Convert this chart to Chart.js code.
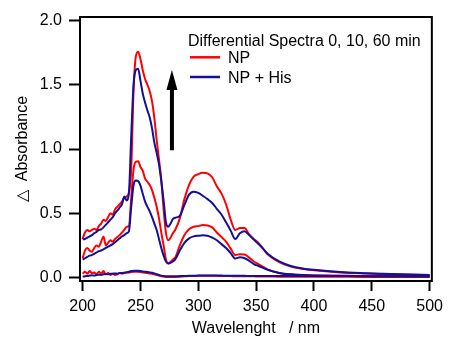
<!DOCTYPE html>
<html><head><meta charset="utf-8">
<script src="https://cdn.jsdelivr.net/npm/chart.js@4.4.1/dist/chart.umd.min.js"></script>
<style>html,body{margin:0;padding:0;background:#fff;overflow:hidden}canvas{display:block}</style>
</head><body>
<canvas id="c" width="449" height="338"></canvas>
<script>
// Wavelength grid (nm)
const wavelengths = [200,202,204,206,208,210,212,214,216,218,220,222,224,226,228,230,232,234,236,238,240,
  242,244,246,248,250,252,254,256,258,260,262,264,266,268,270,272,274,276,278,280,
  284,288,292,296,300,304,308,312,316,320,324,328,332,336,340,344,348,352,356,360,
  370,380,390,400,420,440,460,480,500];

// NP, 60 min (red, top)
const np60 = [0.30,0.35,0.37,0.36,0.37,0.38,0.37,0.40,0.42,0.45,0.44,0.47,0.50,0.49,0.53,0.55,0.57,0.59,0.62,0.63,0.66,
  0.85,1.45,1.72,1.757,1.70,1.61,1.545,1.50,1.45,1.37,1.24,1.07,0.92,0.76,0.53,0.35,0.29,0.31,0.345,0.37,
  0.46,0.61,0.72,0.785,0.805,0.815,0.81,0.78,0.71,0.655,0.57,0.45,0.37,0.385,0.385,0.335,0.30,0.27,0.225,0.18,
  0.12,0.085,0.068,0.057,0.042,0.034,0.028,0.023,0.019];
// NP + His, 60 min (blue, top)
const nphis60 = [0.297,0.30,0.31,0.32,0.33,0.345,0.355,0.37,0.375,0.39,0.41,0.43,0.45,0.47,0.50,0.52,0.545,0.57,0.63,0.60,0.66,
  1.10,1.50,1.615,1.625,1.53,1.43,1.36,1.30,1.245,1.16,1.05,0.97,0.88,0.75,0.60,0.43,0.395,0.42,0.455,0.465,
  0.48,0.565,0.645,0.668,0.658,0.635,0.61,0.58,0.535,0.49,0.43,0.365,0.30,0.345,0.36,0.33,0.295,0.26,0.225,0.185,
  0.125,0.09,0.071,0.06,0.045,0.035,0.029,0.024,0.020];
// NP, 10 min (red, middle)
const np10 = [0.15,0.21,0.23,0.21,0.20,0.23,0.25,0.24,0.28,0.32,0.25,0.27,0.29,0.28,0.30,0.315,0.33,0.35,0.37,0.395,0.40,
  0.62,0.84,0.90,0.905,0.86,0.83,0.77,0.745,0.72,0.68,0.62,0.55,0.46,0.35,0.25,0.14,0.11,0.12,0.14,0.155,
  0.25,0.33,0.375,0.395,0.40,0.408,0.405,0.39,0.35,0.315,0.28,0.225,0.175,0.182,0.18,0.155,0.125,0.105,0.083,0.062,
  0.036,0.025,0.019,0.016,0.013,0.011,0.010,0.009,0.008];
// NP + His, 10 min (blue, middle)
const nphis10 = [0.14,0.15,0.16,0.17,0.175,0.185,0.195,0.205,0.21,0.22,0.23,0.24,0.25,0.26,0.275,0.29,0.305,0.32,0.33,0.345,0.36,
  0.55,0.72,0.755,0.75,0.715,0.65,0.59,0.55,0.515,0.47,0.42,0.37,0.30,0.23,0.17,0.125,0.11,0.115,0.125,0.14,
  0.21,0.27,0.305,0.32,0.325,0.328,0.325,0.31,0.29,0.26,0.23,0.19,0.148,0.157,0.15,0.13,0.105,0.09,0.075,0.06,
  0.036,0.025,0.019,0.016,0.013,0.011,0.010,0.009,0.008];
// NP, 0 min (red, bottom)
const np0 = [0.03,0.045,0.03,0.05,0.035,0.04,0.025,0.045,0.03,0.05,0.025,0.035,0.02,0.03,0.02,0.025,0.035,0.03,0.035,0.04,0.04,
  0.042,0.045,0.045,0.045,0.043,0.04,0.038,0.035,0.032,0.03,0.025,0.02,0.015,0.01,0.008,0.005,0.004,0.004,0.005,0.005,
  0.007,0.009,0.011,0.012,0.013,0.014,0.014,0.014,0.013,0.012,0.012,0.011,0.01,0.01,0.01,0.009,0.009,0.008,0.008,0.008,
  0.007,0.007,0.006,0.006,0.006,0.005,0.005,0.005,0.005];
// NP + His, 0 min (blue, bottom)
const nphis0 = [0.006,0.01,0.012,0.015,0.018,0.015,0.02,0.022,0.02,0.025,0.028,0.025,0.03,0.03,0.032,0.03,0.035,0.035,0.038,0.04,0.045,
  0.05,0.052,0.053,0.052,0.05,0.047,0.045,0.043,0.04,0.037,0.032,0.026,0.02,0.015,0.012,0.01,0.009,0.009,0.009,0.01,
  0.011,0.012,0.013,0.014,0.015,0.016,0.016,0.016,0.015,0.015,0.014,0.014,0.013,0.013,0.013,0.012,0.012,0.012,0.012,0.012,
  0.012,0.011,0.011,0.011,0.011,0.011,0.01,0.01,0.01];

const xTicks = [200,250,300,350,400,450,500];
const yTicks = [0,0.5,1.0,1.5,2.0];
const xTitle = 'Wavelenght   / nm';
const yTitle = '\u25B3  Absorbance';
const legendTitle = 'Differential Spectra 0, 10, 60 min';
const seriesNames = ['NP', 'NP + His'];
// arrow annotation (data coordinates: wavelength, absorbance from -> to)
const arrowX = 277.2, arrowFrom = 0.99, arrowTo = 1.615;

const RED = '#ff0000', BLUE = '#10109a';
const FONT = '"Liberation Sans", Arial, Helvetica, sans-serif';
Chart.defaults.font.family = FONT;
Chart.defaults.font.size = 16;
Chart.defaults.color = '#000';

function pts(vals) { return vals.map((v, i) => ({x: wavelengths[i], y: v})); }
function ds(vals, color, order) {
  return {data: pts(vals), borderColor: color, backgroundColor: color, borderWidth: 2,
    pointRadius: 0, cubicInterpolationMode: 'monotone', fill: false, order: order};
}

const deco = {
  id: 'deco',
  afterDraw(chart) {
    const {ctx, chartArea: a, scales: {x, y}} = chart;
    ctx.save();
    // arrow
    const ax = x.getPixelForValue(arrowX);
    const y0 = y.getPixelForValue(arrowFrom), y1 = y.getPixelForValue(arrowTo);
    const headLen = 20, headW = 11;
    ctx.strokeStyle = '#000'; ctx.fillStyle = '#000';
    ctx.lineWidth = 4; ctx.lineCap = 'butt';
    ctx.beginPath(); ctx.moveTo(ax, y0); ctx.lineTo(ax, y1 + headLen - 1); ctx.stroke();
    ctx.beginPath(); ctx.moveTo(ax, y1); ctx.lineTo(ax - headW / 2, y1 + headLen); ctx.lineTo(ax + headW / 2, y1 + headLen); ctx.closePath(); ctx.fill();
    // frame
    ctx.lineWidth = 2;
    ctx.strokeRect(a.left, a.top, a.right - a.left, a.bottom - a.top);
    // legend
    ctx.font = '16px ' + FONT; ctx.textAlign = 'left'; ctx.textBaseline = 'alphabetic';
    ctx.fillText(legendTitle, 188, 45.5);
    const cols = [RED, BLUE];
    const ly = [57.3, 77];
    for (let i = 0; i < 2; i++) {
      ctx.strokeStyle = cols[i]; ctx.lineWidth = 2.5;
      ctx.beginPath(); ctx.moveTo(190, ly[i]); ctx.lineTo(220, ly[i]); ctx.stroke();
      ctx.fillStyle = '#000';
      ctx.fillText(seriesNames[i], 228, ly[i] + 6);
    }
    ctx.restore();
  }
};

new Chart(document.getElementById('c'), {
  type: 'line',
  data: {datasets: [
    ds(nphis60, BLUE, 1), ds(nphis10, BLUE, 1), ds(nphis0, BLUE, 1),
    ds(np60, RED, 2), ds(np10, RED, 2), ds(np0, RED, 2)
  ]},
  options: {
    responsive: false, animation: false, devicePixelRatio: 1,
    layout: {padding: {left: 0, right: 12, top: 17, bottom: 0}},
    plugins: {legend: {display: false}, tooltip: {enabled: false}},
    scales: {
      x: {type: 'linear', min: 197.7, max: 501.96,
        afterBuildTicks: s => { s.ticks = xTicks.map(v => ({value: v})); },
        afterFit: s => { s.height = 57; },
        grid: {display: true, drawOnChartArea: false, drawTicks: true, tickLength: 10, tickWidth: 2, tickColor: '#000', color: '#000'},
        border: {display: false},
        ticks: {color: '#000', padding: 6, maxRotation: 0, autoSkip: false, font: {size: 16}},
        title: {display: true, text: xTitle, color: '#000', font: {size: 16}, padding: {top: 0, bottom: 0}}
      },
      y: {type: 'linear', min: -0.027, max: 2.027,
        afterBuildTicks: s => { s.ticks = yTicks.map(v => ({value: v})); },
        afterFit: s => { s.width = 80; },
        grid: {display: true, drawOnChartArea: false, drawTicks: true, tickLength: 11, tickWidth: 2, tickColor: '#000', color: '#000'},
        border: {display: false},
        ticks: {color: '#000', padding: 7, font: {size: 16}, callback: v => Number(v).toFixed(1)},
        title: {display: true, text: yTitle, color: '#000', font: {size: 16}, padding: {top: 13, bottom: 0}}
      }
    }
  },
  plugins: [deco]
});
</script>
</body></html>
